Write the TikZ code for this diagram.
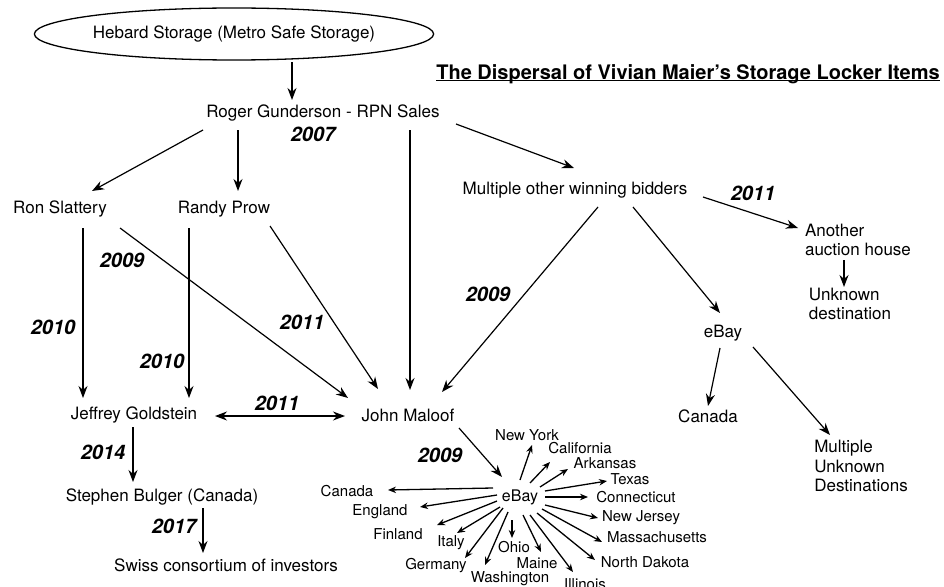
\documentclass[tikz,border=0pt]{standalone}
\usepackage{fontspec}
\setmainfont{TeX Gyre Heros}
\usetikzlibrary{shapes.geometric,arrows.meta,calc}
\newcommand\txtmain{\fontsize{17}{19.5}\selectfont}
\newcommand\txtsmall{\fontsize{15}{17}\selectfont}
\newcommand\txtyear{\fontsize{20}{24}\selectfont\bfseries\itshape}
\tikzset{
  lbl/.style={font=\txtmain, inner sep=1pt},
  town/.style={font=\txtsmall, inner sep=1pt},
  yr/.style={font=\txtyear, inner sep=0pt},
  arr/.style={line width=1.2pt, -{Stealth[length=12pt,width=9pt]}},
  spoke/.style={line width=1.3pt, -{Stealth[length=8pt,width=6.5pt]}},
}
\begin{document}
\begin{tikzpicture}[x=1pt,y=-1pt]
\useasboundingbox (0,0) rectangle (944,586);

% people and places
\node[lbl, ellipse, draw, line width=1.3pt, minimum width=368pt, minimum height=52pt, inner sep=0pt] (hebard) at (234,34) {Hebard Storage (Metro Safe Storage)};
\node[lbl] (roger) at (323,113) {Roger Gunderson - RPN Sales};
\node[font=\fontsize{20}{24}\selectfont\bfseries, inner sep=0pt] (title) at (688,74) {The Dispersal of Vivian Maier’s Storage Locker Items};
\draw[line width=1pt] ([yshift=-1.5pt]title.base west) -- ([yshift=-1.5pt]title.base east);
\node[lbl] (ron) at (60,209) {Ron Slattery};
\node[lbl] (randy) at (224,209) {Randy Prow};
\node[lbl] (multi) at (575,190) {Multiple other winning bidders};
\node[lbl, align=left] (another) at (858,240) {Another\\auction house};
\node[lbl, align=left] (unknown) at (850,304) {Unknown\\destination};
\node[lbl] (ebayR) at (723,333) {eBay};
\node[lbl] (canadaR) at (708,416) {Canada};
\node[lbl, align=left] (multiunk) at (861,466) {Multiple\\Unknown\\Destinations};
\node[lbl] (jeff) at (134,415) {Jeffrey Goldstein};
\node[lbl] (john) at (408,415) {John Maloof};
\node[lbl] (stephen) at (162,497) {Stephen Bulger (Canada)};
\node[lbl] (swiss) at (226,565) {Swiss consortium of investors};
\node[font=\fontsize{16}{18}\selectfont, inner sep=1pt] (ebayS) at (520,497) {eBay};

% years
\node[yr] (y2007) at (313,134) {2007};
\node[yr] (y2009a) at (122,260) {2009};
\node[yr] (y2010a) at (53,327) {2010};
\node[yr] (y2010b) at (162,361) {2010};
\node[yr] (y2011a) at (302,322) {2011};
\node[yr] (y2011b) at (277,403) {2011};
\node[yr] (y2009b) at (488,294) {2009};
\node[yr] (y2011c) at (753,193) {2011};
\node[yr] (y2014) at (103,452) {2014};
\node[yr] (y2017) at (174,526) {2017};
\node[yr] (y2009c) at (440,455) {2009};

% connectors
\draw[arr] ($(hebard)+(58,28)$) -- ($(roger)+(-31,-13)$);
\draw[arr] ($(roger)+(-120,17)$) -- ($(ron)+(32,-18)$);
\draw[arr] ($(roger)+(-85,17)$) -- ($(randy)+(14,-18)$);
\draw[arr] ($(roger)+(87,17)$) -- ($(john)+(2,-25)$);
\draw[arr] ($(roger)+(133,11)$) -- ($(multi)+(-1,-22)$);
\draw[arr] ($(multi)+(128,7)$) -- ($(another)+(-60,-12)$);
\draw[arr] ($(another)+(-14,20)$) -- ($(unknown)+(-6,-17)$);
\draw[arr] ($(multi)+(23,17)$) -- ($(john)+(34,-23)$);
\draw[arr] ($(multi)+(58,17)$) -- ($(ebayR)+(-3,-20)$);
\draw[arr] ($(ebayR)+(-3,15)$) -- ($(canadaR)+(0,-10)$);
\draw[arr] ($(ebayR)+(30,14)$) -- ($(multiunk)+(-31,-31)$);
\draw[arr] ($(ron)+(23,19)$) -- ($(jeff)+(-51,-17)$);
\draw[arr] ($(ron)+(60,19)$) -- ($(john)+(-60,-17)$);
\draw[arr] ($(randy)+(-35,19)$) -- ($(jeff)+(55,-17)$);
\draw[arr] ($(randy)+(46,17)$) -- ($(john)+(-30,-26)$);
\draw[arr, {Stealth[length=12pt,width=9pt]}-{Stealth[length=12pt,width=9pt]}] ($(jeff)+(81,1)$) -- ($(john)+(-63,1)$);
\draw[arr] ($(jeff)+(-1,12)$) -- ($(stephen)+(-29,-15)$);
\draw[arr] ($(stephen)+(41,11)$) -- ($(swiss)+(-23,-12)$);
\draw[arr] ($(john)+(51,13)$) -- ($(ebayS)+(-18,-20)$);

% eBay buyers
\foreach \nm/\txt/\lx/\ly/\sx/\sy/\ex/\ey in {
    ny/New York/527/435/0/-17/5/10,
    cal/California/580/448/10/-14/-30/14,
    ark/Arkansas/605/463/20/-10/-37/6,
    tex/Texas/630/479/25/-6/-23/2,
    con/Connecticut/636/497/25/0/-48/0,
    nj/New Jersey/641/518/25/8/-43/0,
    mas/Massachusetts/657/537/22/12/-55/5,
    nd/North Dakota/645/562/17/16/-50/-2,
    ill/Illinois/585/584/10/18/-12/-12,
    mai/Maine/537/563/3/18/4/-11,
    ohi/Ohio/514/547/-8/23/-2/-9,
    was/Washington/510/579/-12/15/-25/-14,
    ger/Germany/436/566/-17/11/29/-8,
    ita/Italy/451/543/-20/10/6/-10,
    fin/Finland/398/534/-23/4/39/-9,
    eng/England/380/512/-23/-2/40/-5,
    can/Canada/347/491/-27/-9/41/-1} {
  \node[town] (\nm) at (\lx,\ly) {\txt};
  \draw[spoke] ($(ebayS)+(\sx,\sy)$) -- ($(\nm)+(\ex,\ey)$);
}
\end{tikzpicture}
\end{document}
